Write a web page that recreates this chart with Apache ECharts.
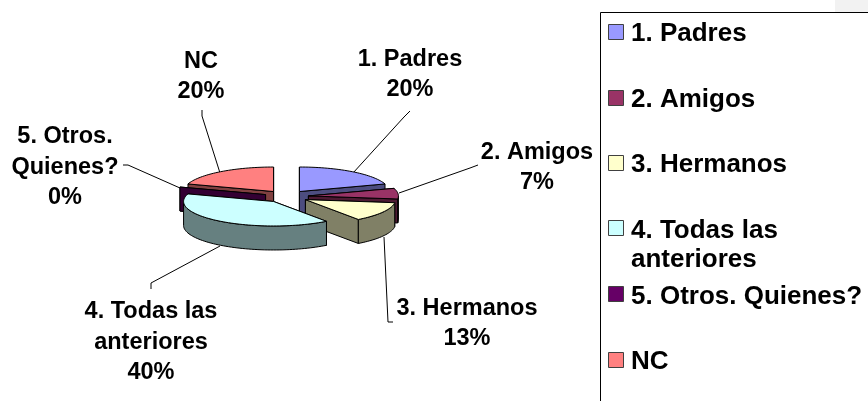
<!DOCTYPE html>
<html>
<head>
<meta charset="utf-8">
<style>html,body{margin:0;padding:0;background:#fff}#c{width:868px;height:401px}</style>
<script src="https://cdn.jsdelivr.net/npm/echarts@6/dist/echarts.min.js"></script>
</head>
<body>
<div id="c"></div>
<script>
var categories = ['1. Padres', '2. Amigos', '3. Hermanos', '4. Todas las anteriores', '5. Otros. Quienes?', 'NC'];
var percents = [20, 7, 13, 40, 0, 20];
var topColors = ['#9999FF', '#993366', '#FFFFCC', '#CCFFFF', '#660066', '#FF8080'];
var wallColors = ['#4D4D80', '#4D1A33', '#808066', '#668080', '#330033', '#804040'];
var labelLines = [['1. Padres'], ['2. Amigos'], ['3. Hermanos'], ['4. Todas las', 'anteriores'], ['5. Otros.', 'Quienes?'], ['NC']];
var legendLines = [['1. Padres'], ['2. Amigos'], ['3. Hermanos'], ['4. Todas las', 'anteriores'], ['5. Otros. Quienes?'], ['NC']];

// Layout of the tilted, exploded pie
var CX = 286.5, CY = 196.5, RX = 90, RY = 24.5, DEPTH = 24, EXPLODE = 22, TILT = 0.28;
var drawOrder = [2, 3, 4, 5, 1, 0]; // paint rank per slice: back to front
var FONT = 'bold 23.5px "Liberation Sans", Arial, sans-serif';
var LEGEND_FONT = 'bold 26px "Liberation Sans", Arial, sans-serif';

var labelPos = [[410, 74.5], [537, 167.5], [467, 323.5], [151, 342.5], [65, 167.5], [201, 76.5]];
var leaders = [
  [[410, 111], [404, 117], [353, 173]],
  [[478, 165], [470, 168], [399, 193]],
  [[393, 322], [388, 322], [384, 237]],
  [[151, 289], [151, 283], [220, 246]],
  [[123, 165], [128, 165], [180, 188]],
  [[202, 110], [202, 116], [220, 173]]
];
var legendSwatchY = [32, 98, 163, 228, 294, 360];
var legendTextY = [33.5, 99.5, 164.5, 230.5, 296.5, 361.5];

function total() { return percents.reduce(function (a, b) { return a + b; }, 0); }

function renderSlice(params, api) {
  var idx = params.dataIndex;
  var before = 0;
  for (var i = 0; i < idx; i++) before += percents[i];
  var val = api.value(0);
  var a0 = before / total() * 360, a1 = (before + val) / total() * 360;
  var mid = (a0 + a1) / 2 * Math.PI / 180;
  var ox = CX + EXPLODE * Math.sin(mid), oy = CY - EXPLODE * TILT * Math.cos(mid);
  function P(deg, drop) {
    var r = deg * Math.PI / 180;
    return [ox + RX * Math.sin(r), oy - RY * Math.cos(r) + (drop || 0)];
  }
  function arc(from, to, drop) {
    var pts = [], n = Math.max(1, Math.ceil(Math.abs(to - from) / 2));
    for (var k = 0; k <= n; k++) pts.push(P(from + (to - from) * k / n, drop));
    return pts;
  }
  var base = drawOrder[idx] * 10 + 1;
  var stroke = { stroke: '#000', lineWidth: 1, lineJoin: 'round' };
  var children = [];
  function poly(points, fill, z) {
    children.push({
      type: 'polygon', z2: base + z, silent: true,
      shape: { points: points },
      style: Object.assign({ fill: fill }, stroke)
    });
  }
  // radial walls, the one further back first
  var radial = [a0, a1].sort(function (p, q) { return P(p)[1] - P(q)[1]; });
  radial.forEach(function (deg, j) {
    var rim = P(deg);
    poly([[ox, oy], rim, [rim[0], rim[1] + DEPTH], [ox, oy + DEPTH]], wallColors[idx], j);
  });
  // outer wall for the front half
  var f0 = Math.max(a0, 90), f1 = Math.min(a1, 270);
  if (f1 > f0) {
    poly(arc(f0, f1, 0).concat(arc(f1, f0, DEPTH)), wallColors[idx], 3);
  }
  // top face
  if (a1 > a0) {
    poly([[ox, oy]].concat(arc(a0, a1, 0)), topColors[idx], 4);
  }
  return { type: 'group', children: children };
}

var graphics = [];
// legend frame and corner
graphics.push({ type: 'rect', silent: true, z: 1, shape: { x: 835, y: 0, width: 33, height: 12 }, style: { fill: '#F2F2F2' } });
graphics.push({ type: 'polyline', silent: true, z: 2, shape: { points: [[600.5, 401], [600.5, 12.5], [868, 12.5]] }, style: { fill: 'none', stroke: '#000', lineWidth: 1 } });
categories.forEach(function (name, i) {
  graphics.push({
    type: 'rect', silent: true, z: 3,
    shape: { x: 608.5, y: legendSwatchY[i] - 7.5, width: 15, height: 15 },
    style: { fill: topColors[i], stroke: '#404040', lineWidth: 1 }
  });
  legendLines[i].forEach(function (line, j) {
    graphics.push({
      type: 'text', silent: true, z: 3, x: 631, y: legendTextY[i] + j * 29,
      style: { text: line, font: LEGEND_FONT, fill: '#000', align: 'left', verticalAlign: 'middle' }
    });
  });
  var lines = labelLines[i].concat([percents[i] + '%']);
  lines.forEach(function (line, j) {
    graphics.push({
      type: 'text', silent: true, z: 3, x: labelPos[i][0], y: labelPos[i][1] + (j - (lines.length - 1) / 2) * 30.5,
      style: { text: line, font: FONT, fill: '#000', align: 'center', verticalAlign: 'middle' }
    });
  });
  graphics.push({
    type: 'polyline', silent: true, z: 2,
    shape: { points: leaders[i] },
    style: { fill: 'none', stroke: '#000', lineWidth: 1 }
  });
});

var chart = echarts.init(document.getElementById('c'), null, { renderer: 'canvas' });
chart.setOption({
  animation: false,
  backgroundColor: '#fff',
  graphic: { elements: graphics },
  series: [{
    type: 'custom',
    coordinateSystem: 'none',
    renderItem: renderSlice,
    silent: true,
    data: categories.map(function (n, i) { return { name: n, value: percents[i] }; })
  }]
});
</script>
</body>
</html>
